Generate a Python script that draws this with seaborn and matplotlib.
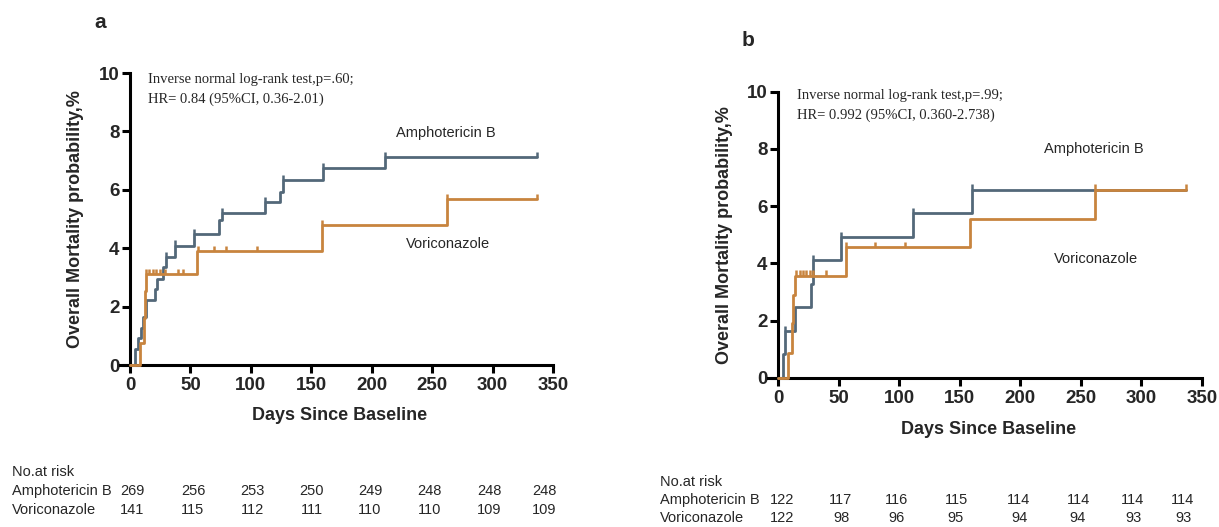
import matplotlib
matplotlib.use("Agg")
import matplotlib.pyplot as plt
import seaborn as sns
import pandas as pd

# ---------------- data ----------------
# Panel a
a_amb_t = [0, 4.5, 6.5, 9, 11, 13.5, 21, 22.5, 27.5, 29.5, 37, 53, 74, 76, 112, 124, 127, 160, 211, 337]
a_amb_y = [0, 0.55, 0.94, 1.28, 1.63, 2.22, 2.6, 2.96, 3.35, 3.69, 4.09, 4.47, 4.95, 5.2, 5.58, 5.93, 6.33, 6.73, 7.11, 7.11]
a_amb_cens = [30, 37, 53, 76, 112, 127, 160, 211, 337]
a_vor_t = [0, 8.3, 11.5, 12.3, 13.2, 55.6, 159, 262, 337]
a_vor_y = [0, 0.77, 1.6, 2.55, 3.1, 3.9, 4.78, 5.67, 5.67]
a_vor_cens = [13.5, 16, 18.7, 21.5, 24.8, 28.9, 40, 44, 56, 69.7, 79.3, 104.7, 159, 262, 337]

# Panel b
b_amb_t = [0, 4.1, 5.5, 13.8, 27.5, 28.9, 52.3, 111.4, 160.2, 337]
b_amb_y = [0, 0.82, 1.64, 2.46, 3.28, 4.1, 4.93, 5.77, 6.58, 6.58]
b_amb_cens = [5.5, 28.9, 52.3, 111.4, 160.2]
b_vor_t = [0, 8.3, 11.5, 12.4, 13.8, 55.9, 158.2, 261.4, 337]
b_vor_y = [0, 0.85, 1.9, 2.89, 3.57, 4.58, 5.54, 6.58, 6.58]
b_vor_cens = [15.1, 17.9, 20.6, 23.4, 26.1, 28.9, 39.4, 55.9, 79.8, 104.6, 261.4, 337]

x_ticks = [0, 50, 100, 150, 200, 250, 300, 350]
y_ticks = [0, 2, 4, 6, 8, 10]

a_text = ["Inverse normal log-rank test,p=.60;", "HR= 0.84 (95%CI, 0.36-2.01)"]
b_text = ["Inverse normal log-rank test,p=.99;", "HR= 0.992 (95%CI, 0.360-2.738)"]

groups = ["Amphotericin B", "Voriconazole"]
a_risk_amb = [269, 256, 253, 250, 249, 248, 248, 248]
a_risk_vor = [141, 115, 112, 111, 110, 110, 109, 109]
b_risk_amb = [122, 117, 116, 115, 114, 114, 114, 114]
b_risk_vor = [122, 98, 96, 95, 94, 94, 93, 93]

# ---------------- style ----------------
sns.set_theme(style="white")
plt.rcParams["font.family"] = ["Liberation Sans", "DejaVu Sans"]

C_AMB = "#536879"
C_VOR = "#c8843e"
W, H = 1219, 527

fig = plt.figure(figsize=(W / 100, H / 100), dpi=100)


def fx(x):
    return x / W


def fy(y):
    return 1 - y / H


def km_panel(ax, amb_t, amb_y, amb_c, vor_t, vor_y, vor_c):
    for t, y, c, col in ((amb_t, amb_y, amb_c, C_AMB), (vor_t, vor_y, vor_c, C_VOR)):
        df = pd.DataFrame({"t": t, "y": y})
        sns.lineplot(data=df, x="t", y="y", ax=ax, color=col, linewidth=2.0,
                     drawstyle="steps-post", estimator=None, sort=False, legend=False,
                     clip_on=False, zorder=3)
        # censor ticks
        yc = [df["y"][df["t"] <= ci].iloc[-1] for ci in c]
        ax.vlines(c, yc, [v + 0.18 for v in yc], color=col, linewidth=1.8, zorder=3)
    ax.set_xlim(-8, 350)
    ax.set_ylim(0, 10)
    ax.set_xticks(x_ticks)
    ax.set_yticks(y_ticks)
    for s in ("top", "right"):
        ax.spines[s].set_visible(False)
    ax.spines["left"].set_position(("data", 0))
    for s in ("left", "bottom"):
        ax.spines[s].set_linewidth(2.2)
        ax.spines[s].set_color("black")
        ax.spines[s].set_zorder(2)
    ax.tick_params(axis="both", direction="out", length=6, width=2.2, color="black",
                   labelsize=13.5, bottom=True, left=True)
    ax.tick_params(axis="x", pad=3)
    ax.tick_params(axis="y", pad=1.5)
    for lab in ax.get_xticklabels() + ax.get_yticklabels():
        lab.set_fontweight("bold")
    ax.set_xlabel("Days Since Baseline", fontsize=13, fontweight="bold")
    ax.set_ylabel("Overall Mortality probability,%", fontsize=13, fontweight="bold")
    ax.xaxis.label.set_va("center")
    ax.yaxis.label.set_va("center")
    ax.set_facecolor("white")


# panel a axes
ax_a = fig.add_axes([fx(120.3), fy(365), (553 - 120.3) / W, (365 - 73) / H])
km_panel(ax_a, a_amb_t, a_amb_y, a_amb_cens, a_vor_t, a_vor_y, a_vor_cens)
ax_a.xaxis.set_label_coords((340 - 120.3) / (553 - 120.3), (365 - 416) / (365 - 73))
ax_a.yaxis.set_label_coords((76 - 120.3) / (553 - 120.3), 0.5)

# panel b axes
ax_b = fig.add_axes([fx(768.3), fy(377.7), (1202 - 768.3) / W, (377.7 - 91.7) / H])
km_panel(ax_b, b_amb_t, b_amb_y, b_amb_cens, b_vor_t, b_vor_y, b_vor_cens)
ax_b.xaxis.set_label_coords((989 - 768.3) / (1202 - 768.3), (377.7 - 429) / (377.7 - 91.7))
ax_b.yaxis.set_label_coords((724.5 - 768.3) / (1202 - 768.3), 0.5)

# panel letters
fig.text(fx(100), fy(23), "a", fontsize=15, fontweight="bold", ha="center", va="center")
fig.text(fx(748), fy(40), "b", fontsize=15, fontweight="bold", ha="center", va="center")

# stats annotations
serif = ["Liberation Serif", "DejaVu Serif"]
for i, line in enumerate(a_text):
    fig.text(fx(148.3), fy(79 + 20 * i), line, family=serif, fontsize=10.5, va="center", ha="left")
for i, line in enumerate(b_text):
    fig.text(fx(796.7), fy(95 + 20 * i), line, family=serif, fontsize=10.5, va="center", ha="left")

# group labels
fig.text(fx(396), fy(132.7), groups[0], fontsize=10.5, va="center", ha="left")
fig.text(fx(406), fy(244), groups[1], fontsize=10.5, va="center", ha="left")
fig.text(fx(1044), fy(149.3), groups[0], fontsize=10.5, va="center", ha="left")
fig.text(fx(1054), fy(259.3), groups[1], fontsize=10.5, va="center", ha="left")

# risk tables
a_cols = [132.3, 193, 252, 312, 370, 429.5, 489, 544]
b_cols = [782, 841, 897, 956, 1019, 1078, 1133, 1183]


def risk_table(x0, y0, dy, cols, amb, vor):
    fig.text(fx(x0), fy(y0), "No.at risk", fontsize=10.5, va="center", ha="left")
    for j, (name, vals) in enumerate(((groups[0], amb), (groups[1], vor))):
        yy = y0 + dy * (j + 1)
        fig.text(fx(x0), fy(yy), name, fontsize=10.5, va="center", ha="left")
        for xc, v in zip(cols, vals):
            fig.text(fx(xc), fy(yy), str(v), fontsize=10.5, va="center", ha="center")


risk_table(11.5, 471.7, 19.2, a_cols, a_risk_amb, a_risk_vor)
risk_table(660, 482.5, 17.8, b_cols, b_risk_amb, b_risk_vor)

fig.savefig("out.png", dpi=100, facecolor="white")
